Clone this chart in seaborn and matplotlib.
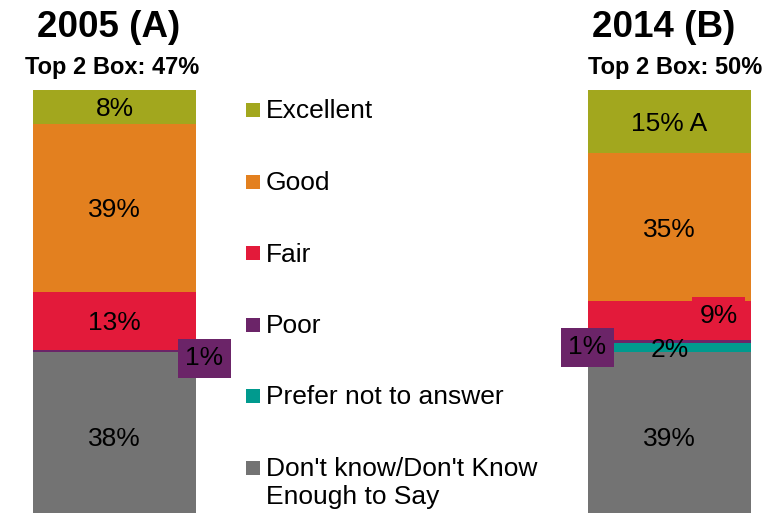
import matplotlib
matplotlib.use("Agg")
import matplotlib.pyplot as plt
from matplotlib.patches import Rectangle
import pandas as pd
import seaborn as sns

# Data
years = ["2005 (A)", "2014 (B)"]
top2_box = [47, 50]
categories = ["Excellent", "Good", "Fair", "Poor", "Prefer not to answer",
              "Don't know/Don't Know\nEnough to Say"]
values_2005 = [8.0, 39.7, 13.7, 0.6, 0.0, 38.0]
values_2014 = [14.9, 35.0, 9.2, 0.8, 2.1, 38.0]
labels_2005 = ["8%", "39%", "13%", "1%", "", "38%"]
labels_2014 = ["15% A", "35%", "9%", "1%", "2%", "39%"]
colors = ["#A2A71E", "#E3801F", "#E31A3A", "#6B2468", "#009A8E", "#737373"]

sns.set_style("white")
plt.rcParams["font.family"] = ["Liberation Sans", "DejaVu Sans"]
plt.rcParams["text.color"] = "black"

W, H = 776, 513
FS = 19
fig = plt.figure(figsize=(W / 100, H / 100), dpi=100)
ax = fig.add_axes([0, 0, 1, 1])


def fx(px):
    return px / W


def fy(py):
    return 1 - py / H


# stacked bars: draw cumulative totals from the top category down
df = pd.DataFrame({"year": years})
for i, cat in enumerate(categories):
    df[cat] = [values_2005[i], values_2014[i]]

bar_w = 163 / 555
for i, cat in enumerate(categories):
    cum = df[categories[i:]].sum(axis=1)
    sns.barplot(x=df["year"], y=cum, color=colors[i], saturation=1,
                width=bar_w, linewidth=0, ax=ax, order=years)

ax.set_xlim(-114.5 / 555, 1 + (W - 669.5) / 555)
ax.set_ylim(0, 100 * H / 423)
ax.axis("off")

# segment labels
# offsets (in px) for labels drawn in a box beside the bar
boxed = {(0, 3): (90, -5), (1, 2): (49, 7), (1, 3): (-82, -3)}
for b, (vals, labs) in enumerate([(values_2005, labels_2005),
                                  (values_2014, labels_2014)]):
    bottom = 100.0
    for i, (v, lab) in enumerate(zip(vals, labs)):
        bottom -= v
        mid = bottom + v / 2
        if i == len(vals) - 1:
            mid -= 1.0
        if not lab:
            continue
        if (b, i) in boxed:
            dx, dy = boxed[(b, i)]
            ax.annotate(lab, (b, mid), xytext=(dx * 0.72, dy * 0.72),
                        textcoords="offset points", ha="center",
                        va="center_baseline", fontsize=FS, color="black",
                        bbox=dict(boxstyle="square,pad=0.28", fc=colors[i],
                                  ec="none"))
        else:
            ax.text(b, mid, lab, ha="center", va="center_baseline",
                    fontsize=FS, color="black")

# titles
title_x = [108.5, 664]
sub_x = [112, 675]
for b in range(2):
    fig.text(fx(title_x[b]), fy(37), years[b], ha="center", va="baseline",
             fontsize=26.5, fontweight="bold", color="black")
    fig.text(fx(sub_x[b]), fy(74), f"Top 2 Box: {top2_box[b]}%",
             ha="center", va="baseline", fontsize=17, fontweight="bold",
             color="black")

# legend
row_y = [110, 181.5, 253, 324.5, 396, 467.5]
for i, cat in enumerate(categories):
    fig.patches.append(Rectangle((fx(246), fy(row_y[i] + 7)), 14 / W, 14 / H,
                                 transform=fig.transFigure, fc=colors[i],
                                 ec="none"))
    fig.text(fx(266), fy(row_y[i] - 10.5), cat, ha="left", va="top",
             fontsize=FS, linespacing=1.22, color="black")

fig.savefig("out.png", dpi=100)
